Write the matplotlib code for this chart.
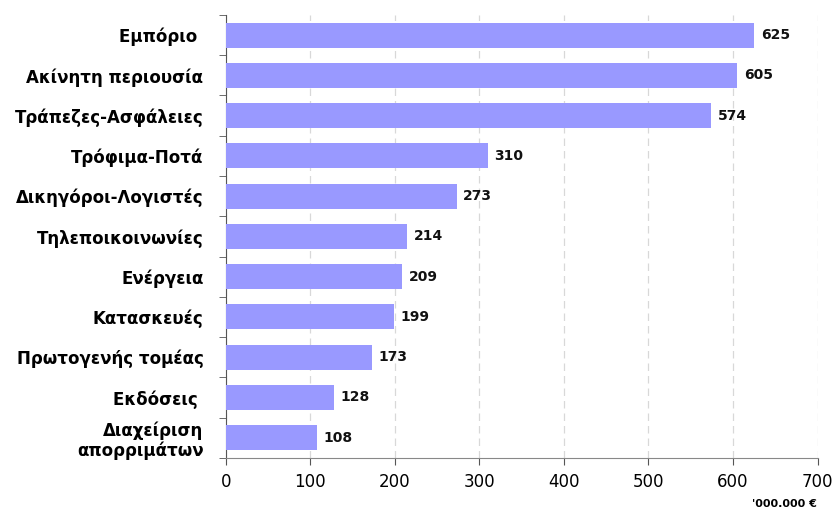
import numpy as np
import matplotlib.pyplot as plt

categories = ["Εμπόριο ", "Ακίνητη περιουσία", "Τράπεζες-Ασφάλειες", "Τρόφιμα-Ποτά",
              "Δικηγόροι-Λογιστές", "Τηλεποικοινωνίες", "Ενέργεια", "Κατασκευές",
              "Πρωτογενής τομέας", "Εκδόσεις ", "Διαχείριση\nαπορριμάτων"]
values = [625, 605, 574, 310, 273, 214, 209, 199, 173, 128, 108]
xticks = [0, 100, 200, 300, 400, 500, 600, 700]

fig = plt.figure(figsize=(8.36, 5.15), dpi=100)
ax = fig.add_axes([0.270, 0.111, 0.708, 0.860])

y = np.arange(len(categories))
ax.barh(y, values, height=0.62, color="#9999ff", zorder=3)

for yi, v in zip(y, values):
    ax.text(v + 8, yi, str(v), va="center", ha="left", fontsize=10,
            fontweight="bold", color="#111111")

ax.set_xlim(0, 700)
ax.set_ylim(len(categories) - 0.5, -0.5)
ax.set_xticks(xticks)
ax.set_xticklabels([str(t) for t in xticks], fontsize=12)
ax.set_yticks(y)
ax.set_yticklabels(categories, fontsize=12, fontweight="heavy", linespacing=1.1)
ax.set_yticks(np.arange(-0.5, len(categories)), minor=True)
ax.tick_params(axis="y", which="major", length=0, pad=16)
ax.tick_params(axis="y", which="minor", length=5, color="#555555")
ax.tick_params(axis="x", length=5, color="#555555", pad=6)

ax.grid(axis="x", linestyle=(0, (6, 4)), color="#d8d8d8", linewidth=0.9, zorder=0)
for s in ["top", "right"]:
    ax.spines[s].set_visible(False)
ax.spines["left"].set_color("#555555")
ax.spines["bottom"].set_color("#888888")

fig.text(0.977, 0.012, "'000.000 €", ha="right", va="bottom", fontsize=8,
         fontweight="bold")

fig.savefig("out.png", dpi=100)
